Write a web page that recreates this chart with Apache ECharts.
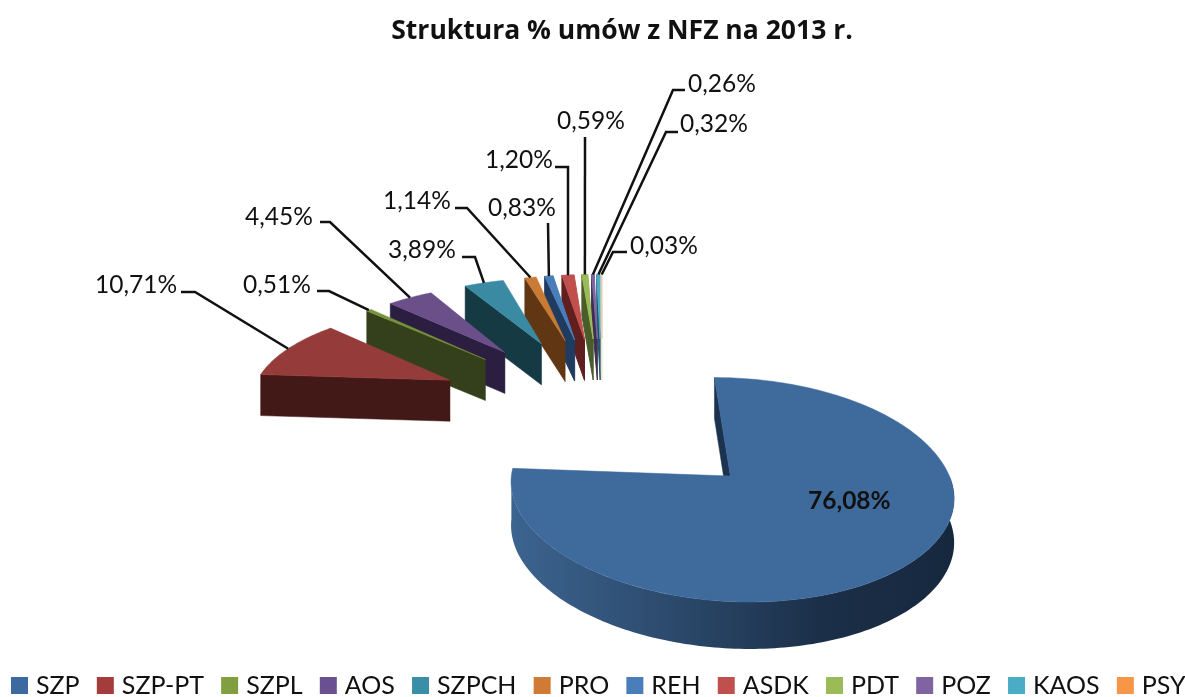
<!DOCTYPE html>
<html>
<head>
<meta charset="utf-8">
<style>html,body{margin:0;padding:0;background:#fff;overflow:hidden}#c{width:1185px;height:697px}</style>
<script src="https://cdn.jsdelivr.net/npm/echarts@6/dist/echarts.min.js"></script>
</head>
<body>
<div id="c"></div>
<script>
var categories = ['SZP','SZP-PT','SZPL','AOS','SZPCH','PRO','REH','ASDK','PDT','POZ','KAOS','PSY'];
var shares = [76.08,10.71,0.51,4.45,3.89,1.14,0.83,1.20,0.59,0.26,0.32,0.03];
var topColors = ['#3f6a9c','#953c3a','#76943c','#6a4f88','#3a8aa3','#c97a34','#4a7ebb','#c0504d','#9bbb59','#8064a2','#4bacc6','#f7c79a'];
var wallColors = ['#1c3350','#421917','#33401b','#2b1e40','#163a44','#613613','#1f3c60','#5e1f1e','#4a5c2a','#3e2f52','#22586a','#f2dfcc'];
var legendColors = ['#3c6aa0','#a33c3a','#7f9f41','#6a4f91','#3a8fa8','#cf7a35','#4a7ebb','#c0504d','#9bbb59','#8064a2','#4bacc6','#f79646'];

// label layout: text left/middle, then the elbow points of the leader line
var labelLayout = [
  {x:808,y:501,bold:true,leader:null},
  {x:95,y:285,leader:[[181,292],[195,292]]},
  {x:243,y:285,leader:[[317,291],[329,291]]},
  {x:245,y:217,leader:[[320,222],[330,222]]},
  {x:388,y:250,leader:[[462,257],[475,257]]},
  {x:383,y:201,leader:[[455,208],[467,208]]},
  {x:488,y:208,leader:[[548,223]]},
  {x:485,y:160,leader:[[555,167],[568,167]]},
  {x:557,y:121,leader:[[585,137]]},
  {x:688,y:84,leader:[[685,90],[673,90]]},
  {x:680,y:124,leader:[[678,132],[666,132]]},
  {x:630,y:246,leader:[[627,252],[613,252]]}
];

// view geometry of the exploded 3D pie
var view = {ox:602, oy:410.5, a:172.6, c:81, px:0.112, py:0.1324, ru:1.165, rvBack:1.16, rvFront:1.07};
var font = 'Lato, "Open Sans", sans-serif';

var total = shares.reduce(function(s,v){return s+v;},0);
function angles(i){
  var before = 0;
  for (var k=0;k<i;k++) before += shares[k];
  return [before/total*Math.PI*2,(before+shares[i])/total*Math.PI*2];
}
function project(U,V){
  return [view.ox+view.a*U/(1-view.px*V), view.oy+view.c*V/(1-view.py*V),
          41+3.3*Math.max(0,V)];
}
function slicePoint(mid,theta,r){
  var cv = -Math.cos(theta);
  var rv = cv>0 ? view.rvFront : view.rvBack;
  return project(Math.sin(mid)+view.ru*r*Math.sin(theta), -Math.cos(mid)+rv*r*cv);
}
function down(p){return [p[0],p[1]+p[2]];}

function renderSlice(i){
  return function(){
    var ang = angles(i), a0 = ang[0], a1 = ang[1], mid = (a0+a1)/2;
    var apex = slicePoint(mid,0,0);
    var outer = [], n = Math.max(2,Math.ceil((a1-a0)/0.02));
    for (var k=0;k<=n;k++) outer.push(slicePoint(mid,a0+(a1-a0)*k/n,1));
    var kids = [];
    // radial wall at the start angle
    kids.push({type:'polygon',shape:{points:[apex,outer[0],down(outer[0]),down(apex)]},
      style:{fill:wallColors[i],stroke:wallColors[i],lineWidth:i>5?1:0.5}});
    // rim facing the viewer
    var lo = Math.max(a0,Math.PI/2), hi = Math.min(a1,Math.PI*1.5);
    if (hi>lo){
      var rim=[], m=Math.ceil((hi-lo)/0.02), j;
      for (j=0;j<=m;j++) rim.push(slicePoint(mid,lo+(hi-lo)*j/m,1));
      for (j=m;j>=0;j--) rim.push(down(slicePoint(mid,lo+(hi-lo)*j/m,1)));
      kids.push({type:'polygon',shape:{points:rim},style:{
        fill:new echarts.graphic.LinearGradient(1,0,0,0,[
          {offset:0,color:'#16283e'},{offset:0.3,color:'#1b2f48'},{offset:0.6,color:'#2a4768'},{offset:1,color:'#3c6490'}])}});
    }
    // top face
    kids.push({type:'polygon',shape:{points:[apex].concat(outer)},
      style:{fill:topColors[i],stroke:topColors[i],lineWidth:i>5?1:0.5}});
    // leader and value label
    var lab = labelLayout[i];
    if (lab.leader){
      var anchor = slicePoint(mid,mid,1);
      kids.push({type:'polyline',shape:{points:lab.leader.concat([[anchor[0],anchor[1]]])},
        style:{fill:null,stroke:'#111',lineWidth:2.5}});
    }
    kids.push({type:'text',style:{
      text:shares[i].toFixed(2).replace('.',',')+'%',x:lab.x,y:lab.y,
      verticalAlign:'middle',fill:'#111',
      font:(lab.bold?'bold ':'')+'24.5px '+font}});
    return {type:'group',children:kids};
  };
}

var series = categories.map(function(name,i){
  return {type:'custom',name:name,coordinateSystem:'none',silent:true,
    z:2+categories.length-i,
    data:[shares[i]],itemStyle:{color:legendColors[i]},renderItem:renderSlice(i)};
});

var chart = echarts.init(document.getElementById('c'),null,{renderer:'canvas'});
chart.setOption({
  animation:false,
  backgroundColor:'#fff',
  title:{text:'Struktura % umów z NFZ na 2013 r.',left:617,textAlign:'center',top:13,
    textStyle:{fontFamily:'"Open Sans", Lato, sans-serif',fontWeight:'bold',fontSize:26.5,color:'#111'}},
  legend:{data:categories,left:11,top:673,width:1400,padding:0,icon:'rect',itemWidth:17,itemHeight:17,itemGap:17.2,
    selectedMode:false,textStyle:{fontFamily:font,fontSize:25,color:'#111',padding:[0,0,0,3]}},
  series:series
});
</script>
</body>
</html>
